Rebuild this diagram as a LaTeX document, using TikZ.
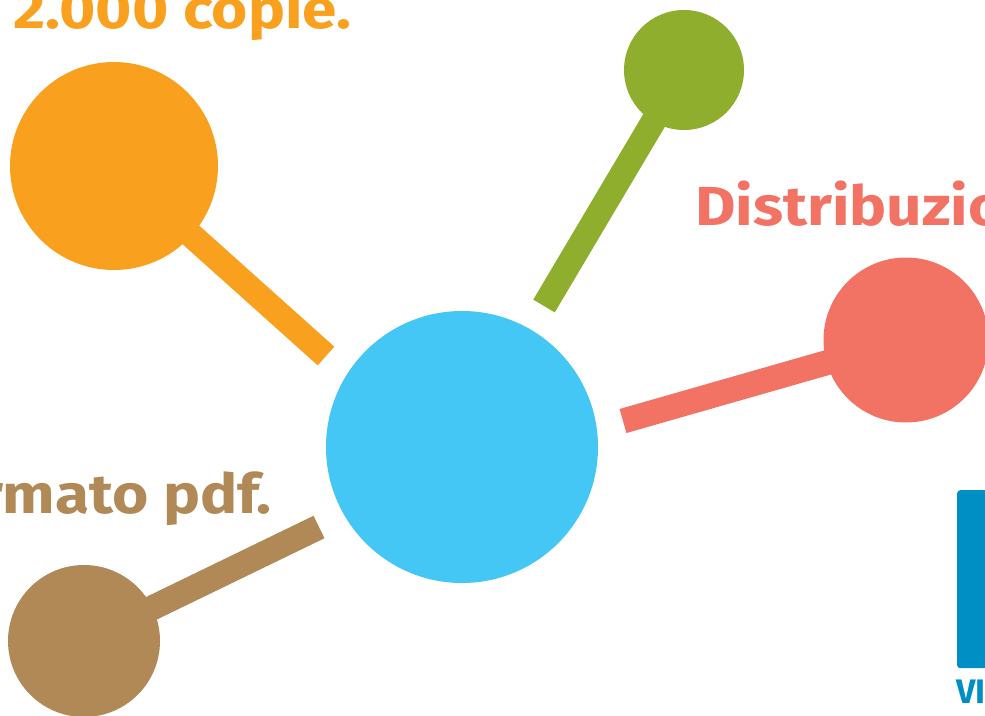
\documentclass[tikz,border=0pt]{standalone}
\usepackage{fontspec}
\setmainfont{Fira Sans}
\usetikzlibrary{backgrounds}
\definecolor{cOrange}{HTML}{F9A11F}
\definecolor{cGreen}{HTML}{8FAE2D}
\definecolor{cSalmon}{HTML}{F27264}
\definecolor{cBlue}{HTML}{44C7F4}
\definecolor{cBrown}{HTML}{B08957}
\definecolor{cPanel}{HTML}{008FC5}
\begin{document}
\begin{tikzpicture}[x=1pt,y=-1pt,
  bar/.style={line width=25pt},
  dot/.style={circle, inner sep=0pt, minimum size=#1},
  lbl/.style={inner sep=0pt, xscale=1.13, font=\fontsize{55}{55}\selectfont\bfseries}]
\useasboundingbox (0,0) rectangle (985,715);
\clip (0,0) rectangle (985,715);
% circles
\node[dot=272pt, fill=cBlue] (hub) at (462,447) {};
\node[dot=208pt, fill=cOrange] (o) at (114,166) {};
\node[dot=120pt, fill=cGreen] (g) at (684,70) {};
\node[dot=165pt, fill=cSalmon] (s) at (906,340) {};
\node[dot=152pt, fill=cBrown] (b) at (84,641) {};
% bar ends
\coordinate (oe) at (326,356);
\coordinate (ge) at (544,306);
\coordinate (se) at (623,421);
\coordinate (be) at (319,527);
\begin{pgfonlayer}{background}
\fill[white] (0,0) rectangle (985,715);
\draw[bar,cOrange] (o.center) -- (oe);
\draw[bar,cGreen] (g.center) -- (ge);
\draw[bar,cSalmon] (s.center) -- (se);
\draw[bar,cBrown] (b.center) -- (be);
\end{pgfonlayer}
% labels
\node[lbl, text=cOrange, anchor=base west] (t1) at (13,28) {2.000 copie.};
\node[lbl, text=cSalmon, anchor=base west] (t2) at (695,225) {Distribuzio};
\node[lbl, text=cBrown, anchor=base east] (t3) at (272,513) {rmato pdf.};
% panel
\node[fill=cPanel, rounded corners=3pt, inner sep=0pt, minimum width=60pt, minimum height=178pt, anchor=north west] (panel) at (957,490) {};
\node[inner sep=0pt, text=cPanel, anchor=base west, font=\fontsize{34}{34}\selectfont\bfseries] (t4) at (956,703) {VI};
\end{tikzpicture}
\end{document}
